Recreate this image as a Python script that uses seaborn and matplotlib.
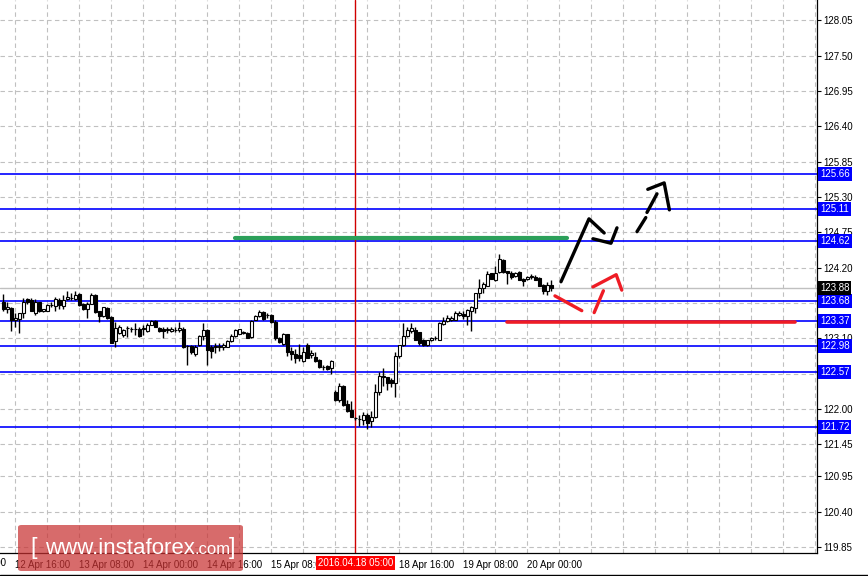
import numpy as np
import pandas as pd
import matplotlib
matplotlib.use("Agg")
import matplotlib.pyplot as plt
import matplotlib.transforms as mtransforms
from matplotlib.patches import FancyBboxPatch
import seaborn as sns

# === Hourly bars: 12 Apr 13:00 ... 20 Apr 05:00 (weekend skipped) ===
opens = [123.67, 123.55, 123.57, 123.38, 123.40, 123.49, 123.71, 123.70, 123.49, 123.66,
         123.52, 123.53, 123.62, 123.61, 123.70, 123.61, 123.71, 123.72, 123.71, 123.79,
         123.64, 123.55, 123.64, 123.78, 123.52, 123.44, 123.57, 123.43, 123.05, 123.18,
         123.15, 123.26, 123.24, 123.25, 123.25, 123.24, 123.21, 123.31, 123.37, 123.26,
         123.24, 123.23, 123.21, 123.23, 123.23, 123.25, 122.98, 122.98, 122.85, 122.99,
         123.13, 123.23, 122.96, 122.97, 122.97, 122.97, 122.97, 123.05, 123.13, 123.17,
         123.18, 123.18, 123.12, 123.39, 123.45, 123.51, 123.46, 123.46, 123.36, 123.10,
         123.01, 123.16, 122.90, 122.85, 122.84, 122.74, 122.99, 122.84, 122.81, 122.76,
         122.65, 122.67, 122.64, 122.26, 122.14, 122.36, 122.07, 121.98, 121.86, 121.85,
         121.83, 121.91, 121.81, 121.87, 122.27, 122.51, 122.49, 122.45, 122.41, 122.82,
         122.99, 123.14, 123.22, 123.23, 123.19, 123.08, 122.99, 123.07, 123.10, 123.08,
         123.32, 123.37, 123.39, 123.39, 123.47, 123.48, 123.44, 123.52, 123.57, 123.80,
         123.88, 123.92, 124.11, 124.01, 124.13, 124.32, 124.14, 124.11, 124.07, 124.13,
         124.03, 124.02, 124.05, 124.06, 124.04, 123.93, 123.83, 123.93]
highs = [123.79, 123.66, 123.58, 123.49, 123.50, 123.73, 123.72, 123.73, 123.71, 123.67,
         123.56, 123.63, 123.66, 123.75, 123.72, 123.78, 123.84, 123.81, 123.83, 123.80,
         123.65, 123.66, 123.80, 123.79, 123.53, 123.59, 123.58, 123.44, 123.36, 123.30,
         123.25, 123.29, 123.27, 123.34, 123.27, 123.30, 123.33, 123.38, 123.38, 123.27,
         123.27, 123.28, 123.27, 123.28, 123.35, 123.27, 122.99, 122.99, 123.00, 123.15,
         123.33, 123.25, 122.99, 123.02, 123.02, 123.03, 123.08, 123.16, 123.24, 123.25,
         123.22, 123.19, 123.38, 123.47, 123.54, 123.53, 123.50, 123.48, 123.38, 123.12,
         123.18, 123.17, 122.97, 122.93, 123.01, 122.97, 123.02, 122.92, 122.88, 122.77,
         122.68, 122.68, 122.76, 122.29, 122.41, 122.37, 122.14, 122.12, 121.88, 121.91,
         121.95, 121.93, 121.96, 122.39, 122.58, 122.63, 122.50, 122.48, 122.89, 123.00,
         123.33, 123.27, 123.33, 123.28, 123.20, 123.09, 123.08, 123.12, 123.13, 123.36,
         123.43, 123.47, 123.44, 123.52, 123.52, 123.52, 123.56, 123.60, 123.81, 124.03,
         123.98, 124.14, 124.12, 124.23, 124.41, 124.33, 124.15, 124.15, 124.13, 124.14,
         124.04, 124.07, 124.10, 124.08, 124.05, 123.94, 123.98, 124.01]
lows = [123.53, 123.49, 123.22, 123.28, 123.18, 123.41, 123.64, 123.52, 123.47, 123.51,
        123.51, 123.52, 123.58, 123.52, 123.56, 123.55, 123.70, 123.69, 123.70, 123.61,
        123.54, 123.41, 123.63, 123.50, 123.36, 123.43, 123.40, 123.02, 122.97, 123.17,
        123.12, 123.12, 123.19, 123.15, 123.12, 123.15, 123.19, 123.30, 123.27, 123.20,
        123.10, 123.18, 123.19, 123.20, 123.20, 122.95, 122.68, 122.86, 122.82, 122.98,
        123.07, 122.68, 122.80, 122.87, 122.90, 122.92, 122.96, 123.04, 123.12, 123.16,
        123.16, 123.10, 123.11, 123.38, 123.43, 123.39, 123.42, 123.34, 123.07, 123.02,
        122.99, 122.83, 122.76, 122.71, 122.75, 122.73, 122.79, 122.80, 122.73, 122.64,
        122.61, 122.61, 122.55, 122.13, 122.11, 122.05, 121.95, 121.87, 121.83, 121.73,
        121.75, 121.69, 121.71, 121.86, 122.22, 122.35, 122.30, 122.34, 122.19, 122.80,
        122.98, 123.12, 123.18, 123.07, 123.00, 122.98, 122.98, 123.05, 123.07, 123.07,
        123.30, 123.35, 123.37, 123.38, 123.45, 123.40, 123.30, 123.21, 123.49, 123.72,
        123.80, 123.91, 124.02, 123.99, 124.11, 124.12, 123.94, 124.03, 124.06, 124.00,
        123.92, 124.01, 124.03, 124.00, 123.91, 123.79, 123.77, 123.83]
closes = [123.55, 123.58, 123.39, 123.42, 123.49, 123.67, 123.66, 123.53, 123.66, 123.52,
          123.55, 123.62, 123.62, 123.71, 123.62, 123.70, 123.75, 123.73, 123.78, 123.62,
          123.55, 123.64, 123.78, 123.51, 123.45, 123.58, 123.41, 123.03, 123.26, 123.28,
          123.23, 123.26, 123.24, 123.24, 123.13, 123.26, 123.31, 123.37, 123.28, 123.21,
          123.21, 123.24, 123.25, 123.23, 123.26, 122.96, 122.98, 122.88, 122.97, 123.14,
          123.23, 122.92, 122.90, 122.98, 122.98, 122.99, 123.06, 123.13, 123.23, 123.24,
          123.19, 123.11, 123.37, 123.45, 123.51, 123.40, 123.46, 123.36, 123.10, 123.04,
          123.16, 122.88, 122.85, 122.80, 122.80, 122.89, 122.80, 122.87, 122.74, 122.66,
          122.65, 122.62, 122.75, 122.14, 122.36, 122.06, 121.97, 121.88, 121.86, 121.85,
          121.91, 121.78, 121.88, 122.27, 122.51, 122.50, 122.41, 122.41, 122.82, 122.99,
          123.14, 123.23, 123.26, 123.08, 123.02, 122.99, 123.07, 123.10, 123.10, 123.33,
          123.37, 123.41, 123.41, 123.49, 123.50, 123.44, 123.54, 123.59, 123.80, 123.89,
          123.94, 124.10, 124.03, 124.11, 124.34, 124.13, 124.11, 124.06, 124.11, 124.01,
          123.99, 124.06, 124.07, 124.01, 123.92, 123.83, 123.93, 123.88]

# === Levels ===
level_prices = [125.66, 125.11, 124.62, 123.68, 123.37, 122.98, 122.57, 121.72]
last_price = 123.88

ytick_vals = [128.05, 127.50, 126.95, 126.40, 125.85, 125.30, 124.75, 124.20, 123.65,
              123.10, 122.55, 122.00, 121.45, 120.95, 120.40, 119.85]
ytick_labels = ["128.05", "127.50", "126.95", "126.40", "125.85", "125.30", "124.75", "124.20", "",
                "123.10", "", "122.00", "121.45", "120.95", "120.40", "119.85"]

xtick_bars = [3, 19, 35, 51, 67, 99, 115, 131]
xtick_labels = ["12 Apr 16:00", "13 Apr 08:00", "14 Apr 00:00", "14 Apr 16:00",
                "15 Apr 08:00", "18 Apr 16:00", "19 Apr 08:00", "20 Apr 00:00"]
first_tick_bar, first_tick_label = -13, "12 Apr 00:00"
cursor_bar = 88
cursor_label = "2016.04.18 05:00"

# === Hand-drawn forecast strokes (bar index, price) ===
green_x, green_y = [58, 141], [124.66, 124.66]
red_flat_x, red_flat_y = [126, 198], [123.35, 123.35]
red_strokes = [
    ([137.9, 144.6], [123.76, 123.53]),
    ([147.7, 150.0], [123.50, 123.84]),
    ([147.4, 153.2, 154.6], [123.90, 124.09, 123.85]),
]
black_strokes = [
    ([139.4, 146.4, 150.2], [123.98, 124.96, 124.74]),
    ([147.4, 151.9, 153.4], [124.65, 124.58, 124.82]),
    ([158.4, 160.6], [124.76, 124.98]),
    ([160.9, 163.4], [125.06, 125.35]),
    ([161.1, 165.2, 166.5], [125.42, 125.52, 125.10]),
]

# === Data frame ===
df = pd.DataFrame({"open": opens, "high": highs, "low": lows, "close": closes})
df["bar"] = np.arange(len(df))
up = df["close"] >= df["open"]

# === Plot ===
sns.set_style("white")
plt.rcParams["font.family"] = ["Liberation Sans", "DejaVu Sans"]
fig = plt.figure(figsize=(8.68, 5.76), dpi=100)
ax = fig.add_axes([0.0, 23 / 576, 817 / 868, 553 / 576])

grid_kw = dict(color="#c0c0c0", lw=0.8, linestyle=(0, (4, 3)))
ax.set_xticks(np.arange(-5, 206, 8), minor=True)
ax.set_xticks(xtick_bars)
ax.set_xticklabels(xtick_labels, fontsize=7, ha="left")
ax.set_yticks(ytick_vals)
ax.set_yticklabels(ytick_labels, fontsize=7)
ax.grid(True, which="both", axis="x", **grid_kw)
ax.grid(True, which="major", axis="y", **grid_kw)
ax.set_axisbelow(True)
ax.yaxis.tick_right()
ax.tick_params(axis="y", length=3, width=0.8, pad=1.5, colors="black")
ax.tick_params(axis="x", which="major", length=4, width=0.8, pad=1, colors="black")
ax.tick_params(axis="x", which="minor", length=0)

for s in ["top", "left"]:
    ax.spines[s].set_visible(False)
for s in ["bottom", "right"]:
    ax.spines[s].set_color("black")
    ax.spines[s].set_linewidth(0.9)

ax.set_xlim(-0.825, 203.4)
ax.set_ylim(119.755, 128.369)

# price lines
ax.axhline(last_price, color="#c0c0c0", lw=1.0, zorder=1)
for p in level_prices:
    ax.axhline(p, color="#0000ff", lw=1.2, zorder=2)
ax.axvline(cursor_bar, color="#d00000", lw=1.0, zorder=2)

# candles
ax.vlines(df["bar"], df["low"], df["high"], color="black", lw=1.0, zorder=3)
ax.bar(df["bar"][up], (df["close"] - df["open"])[up], bottom=df["open"][up], width=0.7,
       facecolor="white", edgecolor="black", linewidth=0.8, zorder=4)
ax.bar(df["bar"][~up], (df["close"] - df["open"])[~up], bottom=df["open"][~up], width=0.7,
       facecolor="black", edgecolor="black", linewidth=0.8, zorder=4)

# forecast strokes
sns.lineplot(x=green_x, y=green_y, ax=ax, color="#2ca05a", lw=3, zorder=5)
sns.lineplot(x=red_flat_x, y=red_flat_y, ax=ax, color="#ee1c25", lw=2.6, zorder=5)
for xs, ys in red_strokes:
    ax.plot(xs, ys, color="#ee1c25", lw=2.4, solid_capstyle="round", zorder=6)
for xs, ys in black_strokes:
    ax.plot(xs, ys, color="black", lw=2.4, solid_capstyle="round", solid_joinstyle="round", zorder=6)

# right-side price boxes
trans = mtransforms.blended_transform_factory(ax.transAxes, ax.transData)
for p in level_prices:
    ax.text(1.0035, p, f"{p:.2f}", transform=trans, ha="left", va="center", fontsize=7,
            color="white", zorder=10, clip_on=False,
            bbox=dict(boxstyle="square,pad=0.22", fc="#0000ff", ec="none"))
ax.text(1.0035, last_price, f"{last_price:.2f}", transform=trans, ha="left", va="center", fontsize=7,
        color="white", zorder=10, clip_on=False,
        bbox=dict(boxstyle="square,pad=0.22", fc="black", ec="none"))

# time labels: the cut-off first one and the cursor box
transx = mtransforms.blended_transform_factory(ax.transData, ax.transAxes)
ax.text(first_tick_bar, -0.0095, first_tick_label, transform=transx, ha="left", va="top",
        fontsize=7, color="black", clip_on=False)
ax.text(cursor_bar, -0.0095, cursor_label, transform=transx, ha="center", va="top", fontsize=7,
        color="white", zorder=10, clip_on=False,
        bbox=dict(boxstyle="square,pad=0.2", fc="#ff0000", ec="none"))

# bottom window edge
fig.add_artist(plt.Line2D([0, 1], [1.5 / 576, 1.5 / 576], color="black", lw=1.0, transform=fig.transFigure))

# watermark
wm = FancyBboxPatch((18 / 868, 5 / 576), 225 / 868, 46 / 576, boxstyle="round,pad=0,rounding_size=0.004",
                    transform=fig.transFigure, fc="#c83232", ec="none", alpha=0.72, zorder=20)
fig.add_artist(wm)
fig.text(30 / 868, 28 / 576, "[", color="white", fontsize=17, va="center", ha="left", zorder=21)
fig.text(45 / 868, 28 / 576, "www.instaforex", color="white", fontsize=16, va="center", ha="left", zorder=21)
fig.text(195 / 868, 26 / 576, ".com", color="white", fontsize=12, va="center", ha="left", zorder=21)
fig.text(229 / 868, 28 / 576, "]", color="white", fontsize=17, va="center", ha="left", zorder=21)

fig.savefig("out.png", dpi=100)
plt.close(fig)
